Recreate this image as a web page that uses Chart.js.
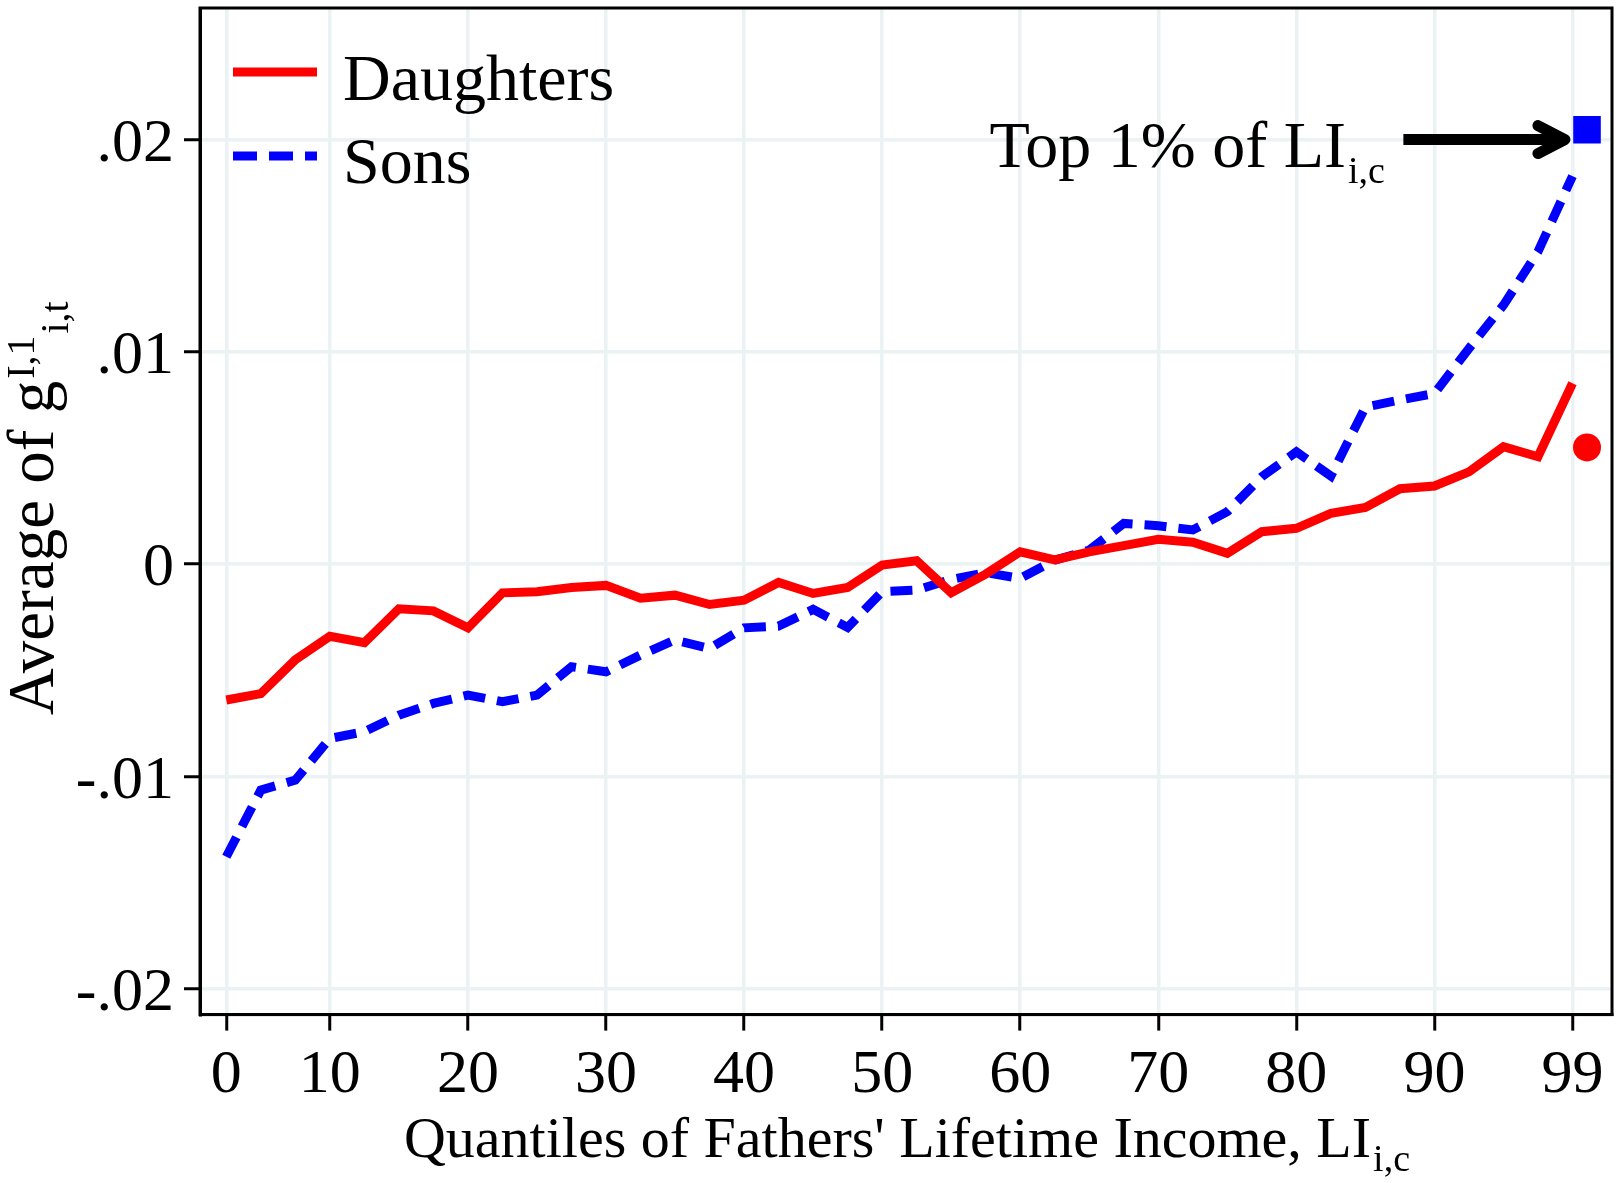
<!DOCTYPE html>
<html>
<head>
<meta charset="utf-8">
<script src="https://cdn.jsdelivr.net/npm/chart.js@4.4.1/dist/chart.umd.min.js"></script>
<style>
html,body{margin:0;padding:0;background:#fff;}
#wrap{width:1620px;height:1183px;position:relative;}
</style>
</head>
<body>
<div id="wrap"><canvas id="c" width="1620" height="1183"></canvas></div>
<script>
// ---- data ----
const quantileBins = [1,2,3,4,5,6,7,8,9,10,11,12,13,14,15,16,17,18,19,20,21,22,23,24,25,26,27,28,29,30,31,32,33,34,35,36,37,38,39,40];
const daughters = [-0.0064,-0.0061,-0.0045,-0.0034,-0.0037,-0.0021,-0.0022,-0.0030,-0.00135,-0.0013,
  -0.0011,-0.0010,-0.0016,-0.00146,-0.0019,-0.0017,-0.00086,-0.00138,-0.0011,-0.00004,
  0.00016,-0.00135,-0.00047,0.00058,0.0002,0.00058,0.00087,0.00117,0.00103,0.00051,
  0.00153,0.00169,0.00239,0.00267,0.00355,0.00368,0.00435,0.00553,0.00506,0.00852];
const sons = [-0.01378,-0.01064,-0.01017,-0.00821,-0.00789,-0.00711,-0.00656,-0.00617,-0.00648,-0.00617,
  -0.00483,-0.00507,-0.00428,-0.00357,-0.00397,-0.0030,-0.00292,-0.00213,-0.00298,-0.0013,
  -0.00122,-0.00072,-0.0004,-0.00067,0.00019,0.00066,0.00192,0.00181,0.00161,0.00247,
  0.00412,0.00529,0.00415,0.0074,0.00773,0.00804,0.01016,0.0122,0.01472,0.01828];
const top1Position = 40.42;
const top1Daughters = 0.0055;
const top1Sons = 0.02046;
const xTickPositions = [1,4,8,12,16,20,24,28,32,36,40];
const xTickLabels = ['0','10','20','30','40','50','60','70','80','90','99'];
const yTickValues = [-0.02,-0.01,0,0.01,0.02];
const yTickLabels = ['-.02','-.01','0','.01','.02'];
const seriesNames = ['Daughters','Sons'];
// annotation (data units)
const annotText = 'Top 1% of LI';
const annotSub = 'i,c';
const annotX = 23.11, annotY = 0.0187;
const arrowY = 0.02, arrowStartX = 35.1, arrowEndX = 39.78;

const SERIF = '"Liberation Serif", "Times New Roman", serif';

const framePlugin = {
  id: 'frame',
  beforeDatasetsDraw(chart) {
    const {ctx, chartArea: a} = chart;
    ctx.save();
    ctx.strokeStyle = '#000';
    ctx.lineWidth = 3;
    ctx.strokeRect(a.left, a.top, a.right - a.left, a.bottom - a.top);
    ctx.restore();
  },
  afterDraw(chart) {
    const {ctx, chartArea: a} = chart;
    const xs = chart.scales.x, ys = chart.scales.y;
    const ds = chart.data.datasets;
    ctx.save();
    // legend
    ctx.lineCap = 'butt';
    ctx.strokeStyle = ds[0].borderColor;
    ctx.lineWidth = 9;
    ctx.beginPath(); ctx.moveTo(233, 72); ctx.lineTo(317, 72); ctx.stroke();
    ctx.strokeStyle = ds[1].borderColor;
    ctx.setLineDash([24, 12]);
    ctx.beginPath(); ctx.moveTo(233, 156); ctx.lineTo(317, 156); ctx.stroke();
    ctx.setLineDash([]);
    ctx.fillStyle = '#000';
    ctx.font = '66px ' + SERIF;
    ctx.textBaseline = 'alphabetic';
    ctx.textAlign = 'left';
    ctx.fillText(seriesNames[0], 343, 100);
    ctx.fillText(seriesNames[1], 343, 183);

    // annotation text
    const tx = xs.getPixelForValue(annotX), ty = ys.getPixelForValue(annotY);
    ctx.font = '66px ' + SERIF;
    ctx.fillText(annotText, tx, ty);
    const tw = ctx.measureText(annotText).width;
    ctx.font = '38px ' + SERIF;
    ctx.fillText(annotSub, tx + tw + 2, ty + 16);

    // arrow
    const ay = ys.getPixelForValue(arrowY);
    const ax1 = xs.getPixelForValue(arrowStartX), ax2 = xs.getPixelForValue(arrowEndX);
    ctx.strokeStyle = '#000';
    ctx.lineWidth = 11;
    ctx.lineCap = 'butt';
    ctx.beginPath(); ctx.moveTo(ax1, ay); ctx.lineTo(ax2 - 4, ay); ctx.stroke();
    ctx.lineCap = 'round'; ctx.lineJoin = 'round';
    ctx.beginPath(); ctx.moveTo(ax2 - 27, ay - 14); ctx.lineTo(ax2, ay); ctx.lineTo(ax2 - 27, ay + 14); ctx.stroke();

    // x title
    const xt = "Quantiles of Fathers' Lifetime Income, LI";
    const xsub = 'i,c';
    ctx.font = '58px ' + SERIF;
    const w1 = ctx.measureText(xt).width;
    ctx.font = '38px ' + SERIF;
    const w2 = ctx.measureText(xsub).width;
    const cx = (a.left + a.right) / 2 + 1;
    let sx = cx - (w1 + w2 + 2) / 2;
    ctx.font = '58px ' + SERIF;
    ctx.fillText(xt, sx, 1157);
    ctx.font = '38px ' + SERIF;
    ctx.fillText(xsub, sx + w1 + 2, 1171);

    // y title (rotated)
    const yt = 'Average of g', ysup = 'I,1', ysub = 'i,t';
    ctx.font = '65px ' + SERIF;
    const m1 = ctx.measureText(yt).width;
    ctx.font = '40px ' + SERIF;
    const m2 = ctx.measureText(ysup).width;
    const m3 = ctx.measureText(ysub).width;
    const total = m1 + m2 + m3 + 4;
    const cy = (a.top + a.bottom) / 2 - 3;
    ctx.translate(53, cy + total / 2);
    ctx.rotate(-Math.PI / 2);
    ctx.font = '65px ' + SERIF;
    ctx.fillText(yt, 0, 0);
    ctx.font = '40px ' + SERIF;
    ctx.fillText(ysup, m1 + 2, -19);
    ctx.fillText(ysub, m1 + m2 + 4, 15);
    ctx.restore();
  }
};

const ctx = document.getElementById('c').getContext('2d');
new Chart(ctx, {
  type: 'line',
  data: {
    datasets: [
      { label: seriesNames[0], data: quantileBins.map((b, i) => ({x: b, y: daughters[i]})),
        borderColor: '#ff0000', backgroundColor: '#ff0000', borderWidth: 9, pointRadius: 0, tension: 0, fill: false },
      { label: seriesNames[1], data: quantileBins.map((b, i) => ({x: b, y: sons[i]})),
        borderColor: '#0000ff', backgroundColor: '#0000ff', borderWidth: 9, borderDash: [22, 12], pointRadius: 0, tension: 0, fill: false },
      { label: 'Top 1% daughters', data: [{x: top1Position, y: top1Daughters}], showLine: false,
        pointStyle: 'circle', pointRadius: 14, pointBackgroundColor: '#ff0000', pointBorderWidth: 0, borderColor: '#ff0000' },
      { label: 'Top 1% sons', data: [{x: top1Position, y: top1Sons}], showLine: false,
        pointStyle: 'rect', pointRadius: 19.5, pointBackgroundColor: '#0000ff', pointBorderWidth: 0, borderColor: '#0000ff' }
    ]
  },
  options: {
    responsive: false,
    animation: false,
    devicePixelRatio: 1,
    layout: { autoPadding: false, padding: { top: 8, right: 8, left: 0, bottom: 0 } },
    plugins: { legend: { display: false }, tooltip: { enabled: false } },
    scales: {
      x: {
        type: 'linear', min: 0.238, max: 41.144,
        afterBuildTicks: s => { s.ticks = xTickPositions.map(v => ({value: v})); },
        afterFit: s => { s.height = 168.4; s.paddingLeft = 0; s.paddingRight = 0; },
        ticks: { autoSkip: false, maxRotation: 0, color: '#000', font: { family: SERIF, size: 62 }, padding: 8,
          callback: v => xTickLabels[xTickPositions.indexOf(v)] },
        grid: { color: '#eaf2f3', lineWidth: 3.5, tickColor: '#000', tickWidth: 3, tickLength: 16 },
        border: { display: true, color: '#000', width: 3 }
      },
      y: {
        type: 'linear', min: -0.021215, max: 0.026194,
        afterBuildTicks: s => { s.ticks = yTickValues.map(v => ({value: v})); },
        afterFit: s => { s.width = 200; s.paddingTop = 0; s.paddingBottom = 0; },
        ticks: { autoSkip: false, color: '#000', font: { family: SERIF, size: 62 }, padding: 10, labelOffset: 5,
          callback: v => yTickLabels[yTickValues.indexOf(v)] },
        grid: { color: '#eaf2f3', lineWidth: 3.5, tickColor: '#000', tickWidth: 3, tickLength: 16 },
        border: { display: true, color: '#000', width: 3 }
      }
    }
  },
  plugins: [framePlugin]
});
</script>
</body>
</html>
